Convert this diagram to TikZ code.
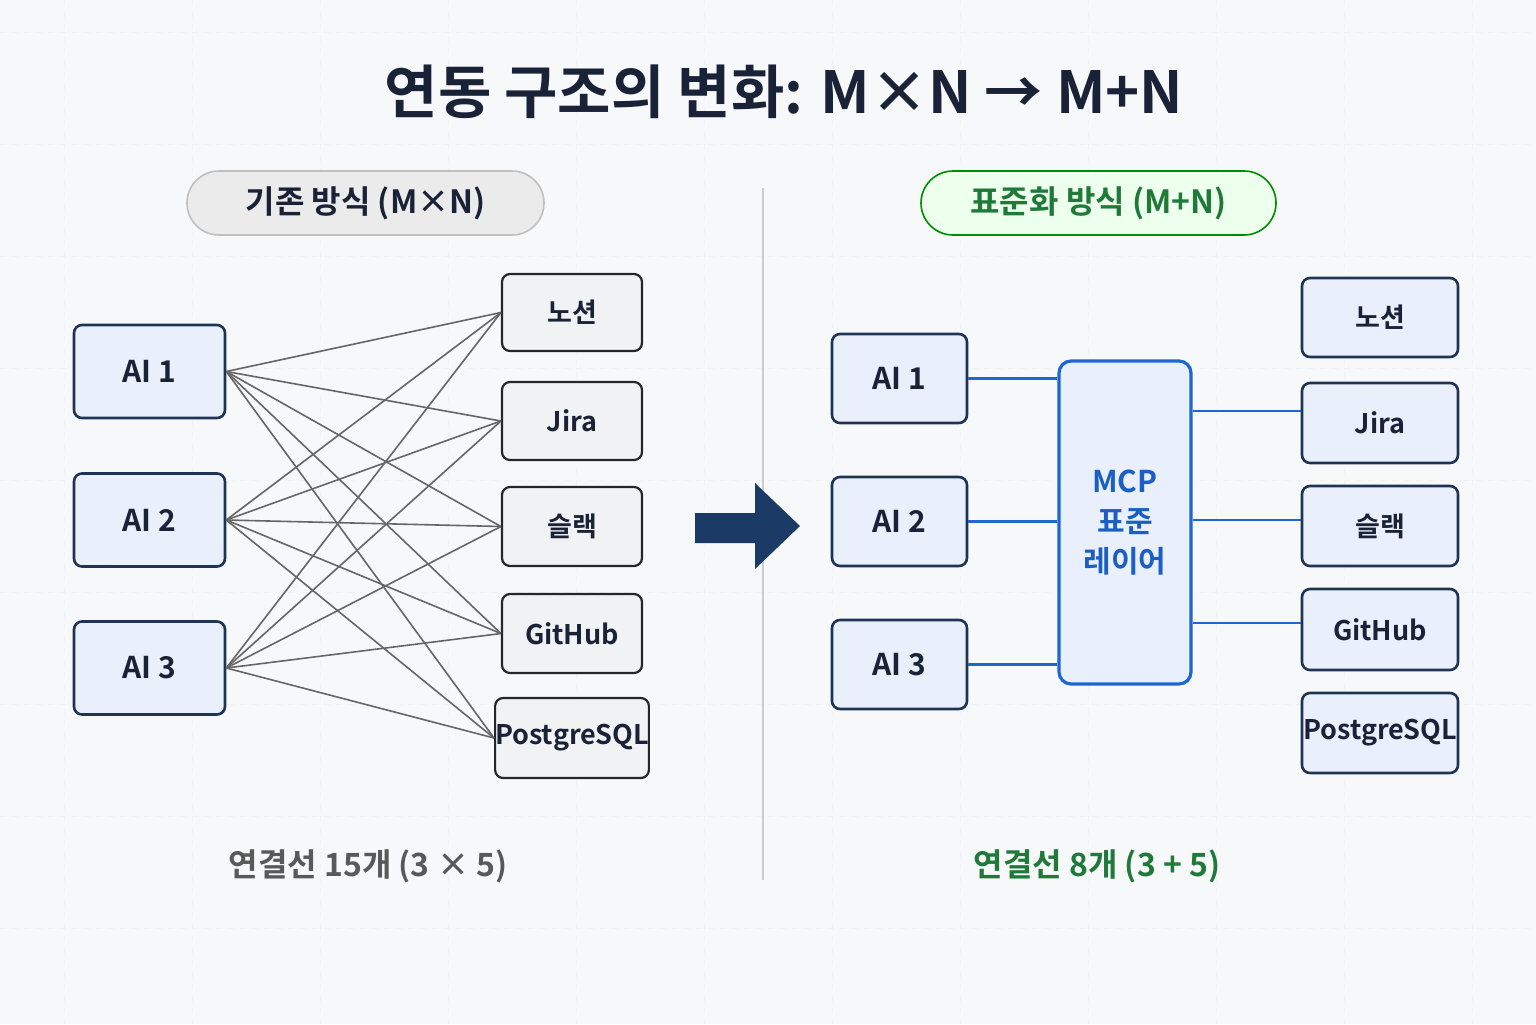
\documentclass[tikz,border=0pt]{standalone}
\usepackage{fontspec}
\setmainfont{Noto Sans CJK KR}[BoldFont={Noto Sans CJK KR Bold}]
\definecolor{bg}{HTML}{F7F8FA}
\definecolor{navy}{HTML}{1A2238}
\definecolor{boxb}{HTML}{1F3355}
\definecolor{boxf}{HTML}{E9F0FB}
\definecolor{svcf}{HTML}{F1F2F4}
\definecolor{mcpb}{HTML}{1E66D0}
\definecolor{mcpt}{HTML}{1C5FC4}
\definecolor{gtxt}{HTML}{1F7A3A}
\definecolor{arrowc}{HTML}{1C3A66}
\begin{document}
\begin{tikzpicture}[x=0.5pt,y=-0.5pt,
  box/.style={draw=boxb,fill=boxf,line width=1.3pt,rounded corners=4pt,font=\bfseries\fontsize{15}{18}\selectfont,text=navy,inner sep=0pt},
  svc/.style={draw=black!85,fill=svcf,line width=1.1pt,rounded corners=4pt,font=\bfseries\fontsize{13.5}{16}\selectfont,text=navy,inner sep=0pt},
  rsvc/.style={box,font=\bfseries\fontsize{13.5}{16}\selectfont},
  pill/.style={rounded corners=16pt,line width=0.8pt,font=\bfseries\fontsize{16}{19}\selectfont,inner sep=0pt},
  cross/.style={draw=black!60,line width=0.8pt},
  blue/.style={draw=mcpb,line width=1.2pt}]
\fill[bg] (0,0) rectangle (1536,1024);
\useasboundingbox (0,0) rectangle (1536,1024);
\foreach \x in {64,192,...,1536} \draw[black!5,dashed] (\x,0)--(\x,1024);
\foreach \y in {32,144,...,1024} \draw[black!5,dashed] (0,\y)--(1536,\y);
\node[font=\bfseries\fontsize{29}{34}\selectfont,text=navy] (title) at (784,92) {연동 구조의 변화: M×N → M+N};
\node[pill,draw=black!25,fill=black!8,minimum width=178.5pt,minimum height=32pt,text=navy] (lp) at (365.5,203) {기존 방식 (M×N)};
\node[pill,draw=green!55!black,fill=green!7,minimum width=177.5pt,minimum height=32pt,text=gtxt] (rp) at (1098.5,203) {표준화 방식 (M+N)};
\coordinate (d1) at (763,188); \coordinate (d2) at (763,880);
\draw[black!20,line width=0.6pt] (d1)--(d2);
% left
\foreach \n/\y in {1/371.5,2/520,3/668}
  \node[box,minimum width=75.5pt,minimum height=46.5pt] (a\n) at (149.5,\y) {AI \n};
\node[svc,minimum width=70pt,minimum height=38.5pt] (s1) at (572,312.5) {노션};
\node[svc,minimum width=70pt,minimum height=39pt] (s2) at (572,421) {Jira};
\node[svc,minimum width=70pt,minimum height=39.5pt] (s3) at (572,526.5) {슬랙};
\node[svc,minimum width=70pt,minimum height=39.5pt] (s4) at (572,633.5) {GitHub};
\node[svc,minimum width=76pt,minimum height=40pt] (s5) at (572,738) {PostgreSQL};
\foreach \a in {1,2,3} \foreach \s in {1,...,5} \draw[cross] (a\a.east)--(s\s.west);
% arrow
\fill[arrowc] (695,513)--(755,513)--(755,483)--(800,526)--(755,569)--(755,543)--(695,543)--cycle;
% right
\foreach \n/\y in {1/378.5,2/521.5,3/664.5}
  \node[box,minimum width=67.5pt,minimum height=44.5pt] (b\n) at (899.5,\y) {AI \n};
\node[draw=mcpb,fill=boxf,line width=1.6pt,rounded corners=6pt,minimum width=66pt,minimum height=161.5pt,align=center,text=mcpt,font=\bfseries\fontsize{15}{20}\selectfont] (mcp) at (1125,522.5) {MCP\\표준\\레이어};
\node[rsvc,minimum width=78pt,minimum height=39.5pt] (r1) at (1380,317.5) {노션};
\node[rsvc,minimum width=78pt,minimum height=40pt] (r2) at (1380,423) {Jira};
\node[rsvc,minimum width=78pt,minimum height=40pt] (r3) at (1380,526) {슬랙};
\node[rsvc,minimum width=78pt,minimum height=40.5pt] (r4) at (1380,629.5) {GitHub};
\node[rsvc,minimum width=78pt,minimum height=40pt] (r5) at (1380,733) {PostgreSQL};
\foreach \n in {1,2,3} \draw[blue] (b\n.east)--(b\n.east -| mcp.west);
\coordinate (y2) at (0,411); \coordinate (y3) at (0,520); \coordinate (y4) at (0,623);
\foreach \n in {2,3,4} \draw[blue] (mcp.east |- y\n)--(r\n.west |- y\n);
\node[font=\bfseries\fontsize{16}{19}\selectfont,text=black!65] (lt) at (368,866) {연결선 15개 (3 × 5)};
\node[font=\bfseries\fontsize{16}{19}\selectfont,text=gtxt] (rt) at (1097,866) {연결선 8개 (3 + 5)};
\end{tikzpicture}
\end{document}
